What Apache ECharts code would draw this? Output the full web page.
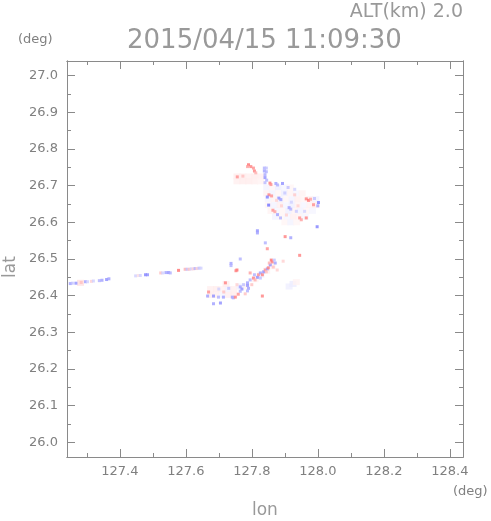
<!DOCTYPE html>
<html>
<head>
<meta charset="utf-8">
<script src="https://cdn.jsdelivr.net/npm/echarts@6/dist/echarts.min.js"></script>
<style>html,body{margin:0;padding:0;background:#fff}#c{width:491px;height:521px}</style>
</head>
<body>
<div id="c"></div>
<script>
// ---- data ----
var titleText = '2015/04/15 11:09:30';
var altText = 'ALT(km) 2.0';
var lonRange = [127.24, 128.44];
var latRange = [25.96, 27.04];
var lonMajor = [127.4, 127.6, 127.8, 128.0, 128.2, 128.4];
var lonMinor = [127.3, 127.5, 127.7, 127.9, 128.1, 128.3];
var latMajor = [26.0, 26.1, 26.2, 26.3, 26.4, 26.5, 26.6, 26.7, 26.8, 26.9, 27.0];
var latMinor = [26.05, 26.15, 26.25, 26.35, 26.45, 26.55, 26.65, 26.75, 26.85, 26.95];

// faint background echoes [lon, lat, value]
var paleCells = [
  [127.281,26.435,0.2],
  [127.755,26.725,0.12],[127.773,26.725,0.12],[127.791,26.725,0.1],[127.809,26.725,0.12],[127.827,26.725,0.1],
  [127.755,26.712,0.1],[127.773,26.712,0.12],[127.791,26.712,0.12],[127.809,26.712,0.1],[127.827,26.712,0.08],
  [127.845,26.695,-0.08],[127.863,26.695,0.06],[127.881,26.695,-0.1],[127.899,26.695,-0.06],[127.917,26.695,0.06],
  [127.845,26.679,0.08],[127.863,26.679,-0.08],[127.881,26.679,0.06],[127.899,26.679,-0.1],[127.917,26.679,0.08],[127.935,26.679,-0.06],[127.953,26.679,0.08],
  [127.850,26.663,-0.06],[127.868,26.663,0.08],[127.886,26.663,-0.1],[127.904,26.663,0.06],[127.922,26.663,-0.08],[127.940,26.663,0.1],[127.958,26.663,0.06],[127.976,26.663,0.1],[127.994,26.663,-0.08],
  [127.850,26.647,0.06],[127.868,26.647,-0.08],[127.886,26.647,0.1],[127.904,26.647,-0.06],[127.922,26.647,-0.1],[127.940,26.647,0.08],[127.958,26.647,-0.06],[127.976,26.647,0.08],[127.994,26.647,0.1],
  [127.858,26.631,0.08],[127.876,26.631,-0.06],[127.894,26.631,0.06],[127.912,26.631,-0.1],[127.930,26.631,0.08],[127.948,26.631,-0.08],[127.966,26.631,0.06],[127.984,26.631,-0.06],
  [127.872,26.615,-0.08],[127.890,26.615,0.06],[127.908,26.615,-0.06],[127.926,26.615,0.1],[127.944,26.615,0.08],[127.962,26.615,-0.06],
  [127.900,26.600,0.06],[127.918,26.600,-0.08],[127.936,26.600,0.06],
  [127.675,26.418,0.1],[127.693,26.418,0.12],[127.711,26.418,0.08],[127.729,26.418,-0.08],[127.745,26.418,0.1],
  [127.675,26.402,0.12],[127.693,26.402,0.1],[127.711,26.402,-0.06],[127.729,26.402,0.1],[127.745,26.402,0.12],
  [127.765,26.425,-0.1],[127.783,26.425,0.08],[127.722,26.432,0.12],
  [127.810,26.445,0.08],[127.828,26.457,-0.08],[127.845,26.468,0.1],[127.862,26.480,0.08],
  [127.913,26.425,-0.1],[127.925,26.432,-0.12],[127.935,26.437,0.08]
];

// stronger echoes [lon, lat, value]
var coreCells = [
  // western line
  [127.250,26.433,-0.6],[127.256,26.434,-0.4],[127.267,26.434,-0.7],[127.283,26.436,0.4],
  [127.296,26.438,-0.6],[127.302,26.438,-0.3],[127.314,26.439,0.3],[127.320,26.440,-0.3],
  [127.338,26.441,-0.5],[127.346,26.442,-0.6],[127.360,26.444,-0.7],[127.367,26.446,-0.6],
  [127.448,26.454,-0.3],[127.456,26.455,0.2],[127.462,26.455,-0.3],
  [127.478,26.457,-0.8],[127.484,26.457,-0.7],
  [127.524,26.462,0.4],[127.530,26.462,-0.3],[127.540,26.463,-0.6],[127.548,26.463,-0.7],[127.553,26.462,-0.5],
  [127.578,26.469,0.9],
  [127.598,26.472,0.5],[127.604,26.472,-0.4],[127.610,26.472,0.4],[127.616,26.473,-0.3],[127.622,26.473,0.3],
  [127.628,26.474,-0.5],[127.634,26.474,0.3],[127.640,26.475,-0.4],[127.646,26.475,-0.3],
  // main cluster top
  [127.790,26.757,0.9],[127.797,26.752,0.8],[127.787,26.752,0.6],
  [127.805,26.748,0.7],[127.808,26.740,0.8],[127.812,26.735,0.5],
  [127.838,26.748,-0.5],[127.844,26.748,-0.4],[127.838,26.740,-0.6],[127.844,26.738,-0.5],
  [127.840,26.730,-0.55],[127.840,26.722,-0.7],[127.845,26.715,-0.5],[127.840,26.708,-0.45],
  [127.756,26.724,0.7],[127.773,26.726,0.4],
  [127.855,26.707,0.85],[127.858,26.703,0.7],[127.873,26.706,-0.6],[127.893,26.706,-0.7],[127.878,26.702,-0.5],
  // main blob
  [127.852,26.675,0.8],[127.860,26.672,0.7],[127.847,26.669,-0.8],
  [127.882,26.666,-0.7],[127.888,26.662,-0.6],
  [127.965,26.664,0.8],[127.972,26.660,0.9],[127.978,26.663,0.6],
  [127.987,26.648,0.7],[128.002,26.654,-0.8],[128.000,26.645,-0.6],
  [127.864,26.633,0.7],[127.870,26.629,0.6],
  [127.913,26.640,-0.6],[127.918,26.636,-0.5],
  [127.945,26.612,0.7],[127.950,26.607,0.6],[127.965,26.612,0.8],
  [127.878,26.621,-0.6],[127.887,26.612,-0.5],[127.851,26.647,-0.9],
  [127.900,26.680,-0.35],[127.930,26.675,0.35],[127.920,26.655,-0.3],[127.940,26.645,0.3],
  [127.890,26.645,0.3],[127.960,26.630,-0.3],[127.905,26.620,0.3],[127.935,26.630,-0.35],
  [127.875,26.660,0.3],[127.990,26.665,-0.4],[127.910,26.695,-0.4],[127.930,26.690,-0.3],
  [127.998,26.588,-0.8],[127.817,26.577,-0.7],[127.817,26.571,-0.6],
  // middle scattered
  [127.901,26.561,0.8],[127.918,26.558,-0.6],[127.841,26.544,-0.5],[127.847,26.528,0.7],
  [127.945,26.510,0.8],[127.895,26.494,0.3],
  [127.737,26.488,-0.6],[127.737,26.482,-0.5],[127.765,26.500,-0.5],
  [127.755,26.470,0.9],[127.752,26.468,0.8],
  // diagonal band
  [127.805,26.448,0.8],[127.817,26.450,-0.7],[127.820,26.457,0.7],[127.826,26.462,-0.6],
  [127.832,26.457,0.8],[127.836,26.465,-0.7],[127.841,26.470,0.7],[127.847,26.473,-0.6],
  [127.850,26.476,0.8],[127.856,26.484,-0.7],[127.862,26.492,0.8],[127.865,26.478,0.4],
  [127.871,26.489,-0.6],[127.859,26.497,0.9],[127.877,26.470,0.3],[127.795,26.443,-0.5],
  [127.810,26.443,0.5],[127.826,26.448,-0.4],[127.844,26.465,0.4],[127.795,26.462,0.6],
  [127.808,26.457,-0.5],[127.853,26.489,0.5],[127.868,26.497,-0.4],
  // lower-left cluster
  [127.666,26.399,-0.6],[127.684,26.399,-0.7],[127.699,26.396,-0.5],[127.714,26.396,-0.6],
  [127.741,26.396,-0.6],[127.744,26.394,-0.5],[127.705,26.380,-0.7],[127.684,26.378,-0.6],
  [127.720,26.435,0.8],[127.750,26.396,0.8],[127.759,26.404,0.7],[127.832,26.399,0.8],[127.669,26.410,0.7],
  [127.787,26.435,-0.6],[127.787,26.428,-0.7],[127.790,26.420,-0.6],[127.787,26.413,-0.5],
  [127.765,26.424,-0.6],[127.770,26.418,-0.7],[127.765,26.412,-0.5],
  [127.800,26.430,0.4],[127.730,26.420,-0.4],[127.715,26.410,0.4],[127.700,26.418,-0.3],
  [127.755,26.430,0.3],[127.775,26.430,-0.4],[127.780,26.405,0.4]
];

// ---- chart ----
var TXT = '#808080';
var BIG = '#999999';
var AX = '#8a8a8a';
var FONT = '"DejaVu Sans"';
function fmt(v){ return Number(v).toFixed(1); }

function xAx(pos, vals, len, labels){
  return {
    type:'value', position:pos, min:lonRange[0], max:lonRange[1], gridIndex:0,
    axisLine:{show:true, onZero:false, lineStyle:{color:AX, width:1}},
    axisTick:{show:true, inside:true, length:len, customValues:vals, lineStyle:{color:AX}},
    axisLabel:{show:labels, customValues:vals, formatter:fmt, color:TXT, fontSize:13, fontFamily:FONT, margin:8},
    splitLine:{show:false}
  };
}
function yAx(pos, vals, len, labels){
  return {
    type:'value', position:pos, min:latRange[0], max:latRange[1], gridIndex:0,
    axisLine:{show:true, onZero:false, lineStyle:{color:AX, width:1}},
    axisTick:{show:true, inside:true, length:len, customValues:vals, lineStyle:{color:AX}},
    axisLabel:{show:labels, customValues:vals, formatter:fmt, color:TXT, fontSize:13, fontFamily:FONT, margin:9},
    splitLine:{show:false}
  };
}

var chart = echarts.init(document.getElementById('c'), null, {renderer:'canvas'});
chart.setOption({
  animation:false,
  backgroundColor:'#fff',
  grid:{left:67, top:61, width:396, height:396},
  xAxis:[ xAx('bottom', lonMajor, 8, true), xAx('bottom', lonMinor, 4, false),
          xAx('top', lonMajor, 8, false), xAx('top', lonMinor, 4, false) ],
  yAxis:[ yAx('left', latMajor, 8, true), yAx('left', latMinor, 4, false),
          yAx('right', latMajor, 8, false), yAx('right', latMinor, 4, false) ],
  visualMap:{
    show:false, type:'continuous', min:-1, max:1, dimension:2, seriesIndex:[0,1],
    inRange:{color:['#5f5fff','#ffffff','#ff5f5f']}
  },
  series:[
    {type:'scatter', xAxisIndex:0, yAxisIndex:0, symbol:'rect', symbolSize:[7,6], data:paleCells, silent:true},
    {type:'scatter', xAxisIndex:0, yAxisIndex:0, symbol:'rect', symbolSize:[3,3], data:coreCells, silent:true}
  ],
  graphic:[
    {type:'text', right:28, top:3, style:{text:altText, fill:BIG, font:'19px ' + FONT}},
    {type:'text', left:127, top:28, style:{text:titleText, fill:BIG, font:'26px ' + FONT}},
    {type:'text', left:18, top:33, style:{text:'(deg)', fill:TXT, font:'13px ' + FONT}},
    {type:'text', left:453, top:485, style:{text:'(deg)', fill:TXT, font:'13px ' + FONT}},
    {type:'text', left:252, top:502, style:{text:'lon', fill:BIG, font:'17px ' + FONT}},
    {type:'text', x:2, y:278, rotation:Math.PI/2, style:{text:'lat', fill:BIG, font:'17px ' + FONT}}
  ]
});
</script>
</body>
</html>
